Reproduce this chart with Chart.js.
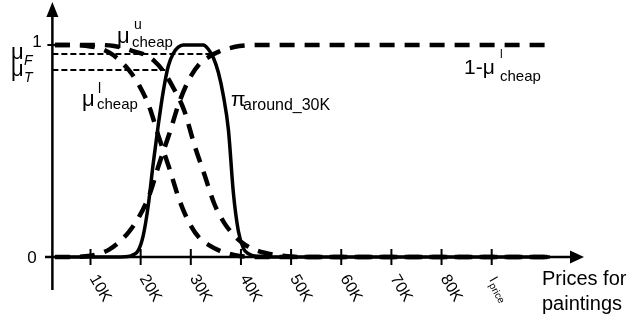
<!DOCTYPE html>
<html>
<head>
<meta charset="utf-8">
<script src="https://cdn.jsdelivr.net/npm/chart.js@4.4.1/dist/chart.umd.min.js"></script>
<style>
  html, body { margin: 0; padding: 0; background: #fff; }
  #wrap { width: 630px; height: 325px; }
</style>
</head>
<body>
<div id="wrap"><canvas id="c" width="630" height="325"></canvas></div>
<script>
// ---------- data (x in thousands of price units, y = membership) ----------
const tickValues = [10, 20, 30, 40, 50, 60, 70, 80];
const tickLabels = ['10K', '20K', '30K', '40K', '50K', '60K', '70K', '80K'];
const iPriceValue = 90;

const piX = [2.9, 10, 16, 17.5, 18.5, 19.5, 20.5, 21.5, 22.5, 23.5, 24.5, 25.5, 26.5, 27.5, 28.5, 32.5, 33.5, 34.5, 35.5, 36.5, 37.5, 38.5, 39.5, 40.5, 41.5, 43, 50, 101.6];
const piY = [0, 0, 0, 0.002, 0.01, 0.03, 0.1, 0.24, 0.44, 0.62, 0.78, 0.9, 0.96, 0.99, 1, 1, 0.98, 0.94, 0.87, 0.76, 0.6, 0.3, 0.12, 0.04, 0.015, 0.004, 0, 0];

const lowX = [2.9, 6, 9, 11.7, 13.7, 15.7, 17.7, 19.7, 21.7, 23.7, 25.7, 27.7, 29.7, 31.7, 33.7, 35.7, 37.7, 39.7, 43.7, 50, 101.6];
const muLowY = [1, 1, 0.997, 0.985, 0.965, 0.93, 0.88, 0.81, 0.71, 0.56, 0.42, 0.27, 0.16, 0.09, 0.055, 0.03, 0.015, 0.005, 0, 0, 0];
const oneMinusLowY = [0, 0, 0.003, 0.015, 0.035, 0.07, 0.12, 0.19, 0.29, 0.44, 0.58, 0.73, 0.84, 0.91, 0.945, 0.97, 0.985, 0.995, 1, 1, 1];

const upX = [2.9, 12, 14.7, 16.7, 18.7, 20.7, 22.7, 24.7, 26.7, 28.7, 30.7, 32.7, 34.7, 36.7, 38.7, 40.7, 42.7, 44.7, 47.7, 51.7, 101.6];
const muUpY = [1, 1, 0.995, 0.985, 0.97, 0.955, 0.925, 0.87, 0.79, 0.69, 0.53, 0.39, 0.25, 0.16, 0.1, 0.06, 0.035, 0.02, 0.007, 0, 0];

const muFLevel = 0.958, muFEnd = 34.4;
const muTLevel = 0.882, muTEnd = 24.9;

// ---------- layout constants ----------
const X_MIN = -8.046, X_MAX = 117.58;
const Y_MIN = -0.3208, Y_MAX = 1.2123;
const X_ORIGIN = 2.4;
const FONT = '"Liberation Sans", Arial, Helvetica, sans-serif';

function pts(xs, ys) { return xs.map((x, i) => ({ x: x, y: ys[i] })); }

const thickDash = { borderColor: '#000', borderWidth: 4.5, borderDash: [15, 10], showLine: true, pointRadius: 0, fill: false, cubicInterpolationMode: 'monotone' };

const datasets = [
  Object.assign({ label: 'mu_u_cheap', data: pts(upX, muUpY) }, thickDash),
  Object.assign({ label: 'mu_l_cheap', data: pts(lowX, muLowY) }, thickDash),
  Object.assign({ label: '1-mu_l_cheap', data: pts(lowX, oneMinusLowY) }, thickDash),
  { label: 'pi_around_30K', data: pts(piX, piY), borderColor: '#000', borderWidth: 3.5, showLine: true, pointRadius: 0, fill: false, cubicInterpolationMode: 'monotone' },
  { label: 'muF', data: [{ x: X_ORIGIN, y: muFLevel }, { x: muFEnd, y: muFLevel }], borderColor: '#000', borderWidth: 2, borderDash: [6, 3], showLine: true, pointRadius: 0, fill: false },
  { label: 'muT', data: [{ x: X_ORIGIN, y: muTLevel }, { x: muTEnd, y: muTLevel }], borderColor: '#000', borderWidth: 2, borderDash: [6, 3], showLine: true, pointRadius: 0, fill: false }
];

function txt(ctx, s, x, y, size, opt) {
  opt = opt || {};
  ctx.save();
  ctx.font = (opt.italic ? 'italic ' : '') + size + 'px ' + FONT;
  ctx.fillStyle = '#000';
  ctx.textAlign = opt.align || 'left';
  ctx.textBaseline = opt.baseline || 'alphabetic';
  ctx.fillText(s, x, y);
  ctx.restore();
}

const axisPlugin = {
  id: 'axisPlugin',
  afterDatasetsDraw(chart) {
    const ctx = chart.ctx;
    const xs = chart.scales.x, ys = chart.scales.y;
    const ox = xs.getPixelForValue(X_ORIGIN);
    const oy = ys.getPixelForValue(0);
    const y1 = ys.getPixelForValue(1);
    ctx.save();
    ctx.strokeStyle = '#000';
    ctx.fillStyle = '#000';
    ctx.lineWidth = 2.5;
    ctx.setLineDash([]);
    // y axis
    ctx.beginPath(); ctx.moveTo(ox, 290); ctx.lineTo(ox, 14); ctx.stroke();
    ctx.beginPath(); ctx.moveTo(ox, 2); ctx.lineTo(ox - 6, 17); ctx.lineTo(ox + 6, 17); ctx.closePath(); ctx.fill();
    // x axis
    const arrowTip = 584;
    ctx.beginPath(); ctx.moveTo(45, oy); ctx.lineTo(arrowTip - 10, oy); ctx.stroke();
    ctx.beginPath(); ctx.moveTo(arrowTip, oy); ctx.lineTo(arrowTip - 14, oy - 6.5); ctx.lineTo(arrowTip - 14, oy + 6.5); ctx.closePath(); ctx.fill();
    // tick at 1
    ctx.lineWidth = 2;
    ctx.beginPath(); ctx.moveTo(ox - 5, y1); ctx.lineTo(ox + 5, y1); ctx.stroke();
    // x ticks
    const allTicks = tickValues.concat([iPriceValue]);
    allTicks.forEach(v => {
      const px = xs.getPixelForValue(v);
      ctx.beginPath(); ctx.moveTo(px, oy - 8); ctx.lineTo(px, oy + 8); ctx.stroke();
    });
    // rotated tick labels
    const ang = 60 * Math.PI / 180;
    tickValues.forEach((v, i) => {
      const px = xs.getPixelForValue(v);
      ctx.save();
      ctx.translate(px + 2.5, oy + 19);
      ctx.rotate(ang);
      txt(ctx, tickLabels[i], 0, 0, 16, { baseline: 'middle' });
      ctx.restore();
    });
    {
      const px = xs.getPixelForValue(iPriceValue);
      ctx.save();
      ctx.translate(px + 0.5, oy + 21);
      ctx.rotate(ang);
      ctx.font = '13px ' + FONT;
      const w = ctx.measureText('I').width;
      txt(ctx, 'I', 0, 0, 13, { baseline: 'middle' });
      txt(ctx, 'price', w + 1, 4, 10, { baseline: 'middle' });
      ctx.restore();
    }
    // y labels
    txt(ctx, '0', 32, oy + 6, 17, { align: 'center' });
    txt(ctx, '1', 37, 47, 17, { align: 'center' });
    txt(ctx, 'μ', 11, 59, 22);
    txt(ctx, 'F', 24, 65, 14, { italic: true });
    txt(ctx, 'μ', 11, 76, 22);
    txt(ctx, 'T', 24, 82, 14, { italic: true });
    // curve labels
    txt(ctx, 'μ', 117, 43, 22);
    txt(ctx, 'u', 134, 29, 14);
    txt(ctx, 'cheap', 132, 47, 15);

    txt(ctx, 'μ', 82, 106, 22);
    txt(ctx, 'l', 98, 93, 14);
    txt(ctx, 'cheap', 97, 109, 15);

    txt(ctx, 'π', 231, 106, 21);
    txt(ctx, 'around_30K', 243, 110, 16);

    txt(ctx, '1-μ', 464, 74, 21);
    txt(ctx, 'l', 500, 58, 12);
    txt(ctx, 'cheap', 500, 81, 15);

    txt(ctx, 'Prices for', 542, 285, 20);
    txt(ctx, 'paintings', 542, 310, 20);
    ctx.restore();
  }
};

new Chart(document.getElementById('c').getContext('2d'), {
  type: 'scatter',
  data: { datasets: datasets },
  options: {
    responsive: false,
    animation: false,
    devicePixelRatio: 1,
    layout: { padding: 0 },
    plugins: { legend: { display: false }, tooltip: { enabled: false }, title: { display: false } },
    scales: {
      x: { type: 'linear', min: X_MIN, max: X_MAX, display: false },
      y: { type: 'linear', min: Y_MIN, max: Y_MAX, display: false }
    },
    elements: { point: { radius: 0 } }
  },
  plugins: [axisPlugin]
});
</script>
</body>
</html>
